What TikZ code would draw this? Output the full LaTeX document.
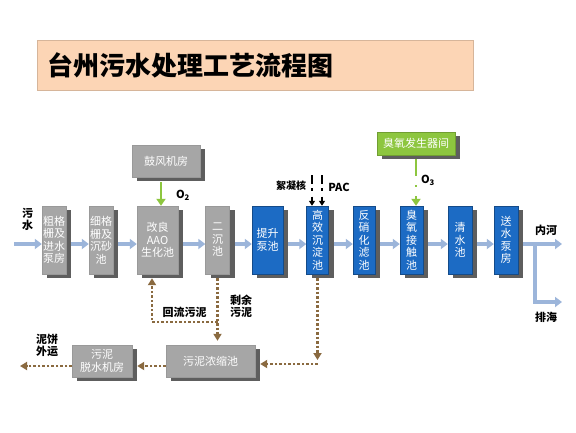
\documentclass[tikz,border=0pt]{standalone}
\usepackage{fontspec}
\setmainfont{Noto Sans CJK SC}
\usetikzlibrary{arrows.meta,shadows}

\definecolor{boxgray}{HTML}{A6A6A6}
\definecolor{boxblue}{HTML}{1C6BC4}
\definecolor{shadowgray}{HTML}{5E5E5E}
\definecolor{flowblue}{HTML}{9CB5DA}
\definecolor{gasgreen}{HTML}{8DC63F}
\definecolor{sludgebrown}{HTML}{8A6A40}
\definecolor{titlepeach}{HTML}{FCD5B5}

\begin{document}
\begin{tikzpicture}[x=1pt, y=-1pt,
  pool/.style={draw=black!40, fill=boxgray, text=white, inner sep=0pt, align=center,
    minimum height=68pt, font=\fontsize{11}{12.5}\selectfont,
    drop shadow={shadow xshift=5pt, shadow yshift=-4pt, fill=shadowgray, opacity=1}},
  bluepool/.style={pool, fill=boxblue, draw=boxblue!70!black},
  house/.style={pool, minimum height=32pt},
  flow/.style={flowblue, line width=3.5pt, -{Triangle[length=7pt,width=10pt]}},
  gas/.style={gasgreen, line width=2pt, -{Triangle[length=7pt,width=9pt]}},
  dose/.style={black, line width=1.6pt, dash pattern=on 9pt off 4pt on 2.5pt off 6pt,
    -{Triangle[length=5pt,width=6pt]}},
  sludge/.style={sludgebrown, line width=2.5pt, dash pattern=on 2.5pt off 2pt,
    -{Triangle[length=7pt,width=8pt]}},
  tag/.style={font=\bfseries\fontsize{11}{12}\selectfont, align=center, inner sep=0pt}]

  \fill[white] (0,0) rectangle (576,432);
  \useasboundingbox (0,0) rectangle (576,432);

  % Titel
  \draw[draw=titlepeach!85!black, fill=titlepeach] (37,40) rectangle (473,90);
  \node[anchor=west, inner sep=0pt, font=\bfseries\fontsize{26}{26}\selectfont] (title) at (47,65) {台州污水处理工艺流程图};

  % Hauptlinie
  \node[pool, minimum width=24pt] (b1) at (54,240) {粗格\\栅及\\进水\\泵房};
  \node[pool, minimum width=24pt] (b2) at (101,240) {细格\\栅及\\沉砂\\池};
  \node[pool, minimum width=41pt] (b3) at (157.5,240) {改良\\AAO\\生化池};
  \node[pool, minimum width=24pt] (b4) at (217.5,240) {二\\沉\\池};
  \node[bluepool, minimum width=31pt] (b5) at (267.5,240) {提升\\泵池};
  \node[bluepool, minimum width=22pt] (b6) at (317.5,240) {高\\效\\沉\\淀\\池};
  \node[bluepool, minimum width=22pt] (b7) at (364,240) {反\\硝\\化\\滤\\池};
  \node[bluepool, minimum width=23pt] (b8) at (411.5,240) {臭\\氧\\接\\触\\池};
  \node[bluepool, minimum width=24pt] (b9) at (460,240) {清\\水\\池};
  \node[bluepool, minimum width=24pt] (b10) at (506,240) {送\\水\\泵\\房};

  % Zulauf und Ablauf
  \coordinate (inlet) at (14,244);
  \coordinate (split) at (535,244);
  \coordinate (river) at (562,244);
  \coordinate (sea) at (562,302);
  \node[tag] (wushui) at (27.5,219) {污\\水};
  \node[tag] (neihe) at (546,230) {内河};
  \node[tag] (paihai) at (546,317) {排海};

  \draw[flow] (inlet) -- ([yshift=-4pt]b1.west);
  \foreach \a/\b in {b1/b2,b2/b3,b3/b4,b4/b5,b5/b6,b6/b7,b7/b8,b8/b9,b9/b10}
    \draw[flow, shorten <=5pt] ([yshift=-4pt]\a.east) -- ([yshift=-4pt]\b.west);
  \draw[flow, shorten <=5pt] ([yshift=-4pt]b10.east) -- (river);
  \draw[flow] (split) |- (sea);

  % Luft und Ozon
  \node[house, minimum width=68pt] (blower) at (166,161) {鼓风机房};
  \node[house, fill=gasgreen, draw=gasgreen!80!black, minimum width=78pt, minimum height=23pt] (ozone) at (416,143.5) {臭氧发生器间};
  \coordinate (o2x) at (161,0);
  \draw[gas, shorten <=5pt] (blower.south -| o2x) -- (b3.north -| o2x);
  \draw[gas, dash pattern=on 17pt off 9pt on 2pt off 9pt, shorten <=4pt] (ozone.south) -- (b8.north -| ozone.south);
  \node[tag] (otwo) at (183,195) {O\textsubscript{2}};
  \node[tag] (othree) at (428,180) {O\textsubscript{3}};

  % Dosierung
  \coordinate (floc) at (312,175);
  \coordinate (pac) at (322,175);
  \draw[dose] (floc) -- (floc |- b6.north);
  \draw[dose] (pac) -- (pac |- b6.north);
  \node[tag, font=\bfseries\fontsize{10}{11}\selectfont] (flocname) at (291,186) {絮凝核};
  \node[tag] (pacname) at (339,187) {PAC};

  % Schlamm
  \node[house, minimum width=89pt] (thick) at (210.5,361) {污泥浓缩池};
  \node[house, minimum width=60pt] (dewater) at (102,361) {污泥\\脱水机房};
  \coordinate (retn) at (217.5,322);
  \coordinate (retw) at (152,322);
  \coordinate (drop) at (317.5,360);
  \coordinate (cake) at (20,366);

  \draw[sludge, shorten >=4pt] (retn) -- (retw) -- (retw |- b3.south);
  \draw[sludge, shorten <=4pt, shorten >=4pt] (b4.south) -- (b4.south |- thick.north);
  \draw[sludge, shorten <=4pt] (b6.south) -- (drop);
  \draw[sludge, shorten >=5pt] ([yshift=-4pt]drop) -- ([yshift=-3pt]thick.east);
  \draw[sludge, shorten >=5pt] ([yshift=-5pt]thick.west) -- ([yshift=-5pt]dewater.east);
  \draw[sludge] ([yshift=-5pt]dewater.west) -- (cake);

  \node[tag] (huiliu) at (184.5,312.5) {回流污泥};
  \node[tag] (shengyu) at (241,306.5) {剩余\\污泥};
  \node[tag] (nibing) at (47,345) {泥饼\\外运};
\end{tikzpicture}
\end{document}
